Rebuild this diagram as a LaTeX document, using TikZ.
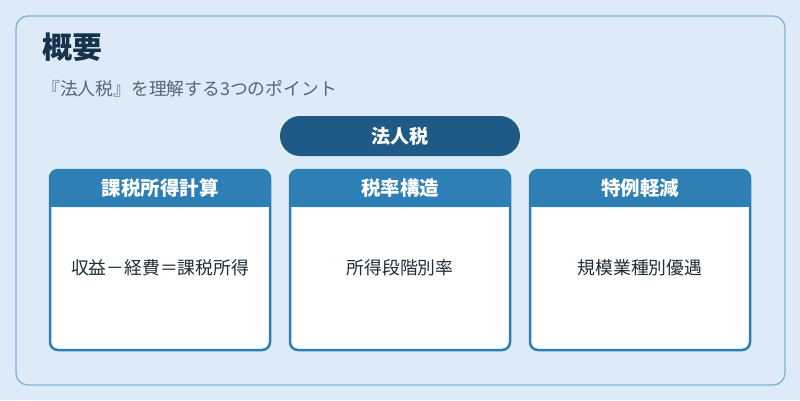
\documentclass[tikz,border=0pt]{standalone}
\usepackage{fontspec}
\setmainfont{Noto Sans CJK JP}
\begin{document}
\begin{tikzpicture}[x=1pt,y=-1pt,
  card/.style={draw=cardblue,line width=2.5pt,rounded corners=8pt},
  headtxt/.style={text=white,font=\bfseries\fontsize{19.5}{22}\selectfont,anchor=center},
  bodytxt/.style={text=textdark,font=\fontsize{17.8}{20}\selectfont,anchor=center}]
\definecolor{bg}{HTML}{DCEBF7}
\definecolor{frame}{HTML}{7DB2D6}
\definecolor{pill}{HTML}{1F5A87}
\definecolor{cardblue}{HTML}{2E7FB5}
\definecolor{textdark}{HTML}{1F2D3A}
\definecolor{titledark}{HTML}{17324A}
\definecolor{subgray}{HTML}{56667A}
\useasboundingbox (0,0) rectangle (800,400);
\fill[bg] (0,0) rectangle (800,400);
\draw[frame,line width=1.3pt,rounded corners=12pt,fill=bg] (16,16) rectangle (785,385);
\node[anchor=west,inner sep=0pt,text=titledark,font=\bfseries\fontsize{30}{34}\selectfont] (title) at (42,47) {概要};
\node[anchor=west,inner sep=0pt,text=subgray,font=\fontsize{17.8}{20}\selectfont] (sub) at (42,89) {『法人税』を理解する3つのポイント};
\node[fill=pill,rounded corners=20pt,minimum width=240pt,minimum height=40pt,text=white,font=\bfseries\fontsize{19}{22}\selectfont] (root) at (400,136) {法人税};
\foreach \i/\x/\h/\b in {1/50/課税所得計算/収益－経費＝課税所得, 2/290/税率構造/所得段階別率, 3/530/特例軽減/規模業種別優遇}{
  \fill[white,rounded corners=8pt] (\x,170) rectangle (\x+220,350);
  \fill[cardblue,rounded corners=8pt] (\x,170) rectangle (\x+220,207);
  \fill[cardblue] (\x,195) rectangle (\x+220,207);
  \draw[card] (\x,170) rectangle (\x+220,350);
  \node[headtxt] (h\i) at (\x+110,188) {\h};
  \node[bodytxt] (b\i) at (\x+110,268) {\b};
}
\end{tikzpicture}
\end{document}
